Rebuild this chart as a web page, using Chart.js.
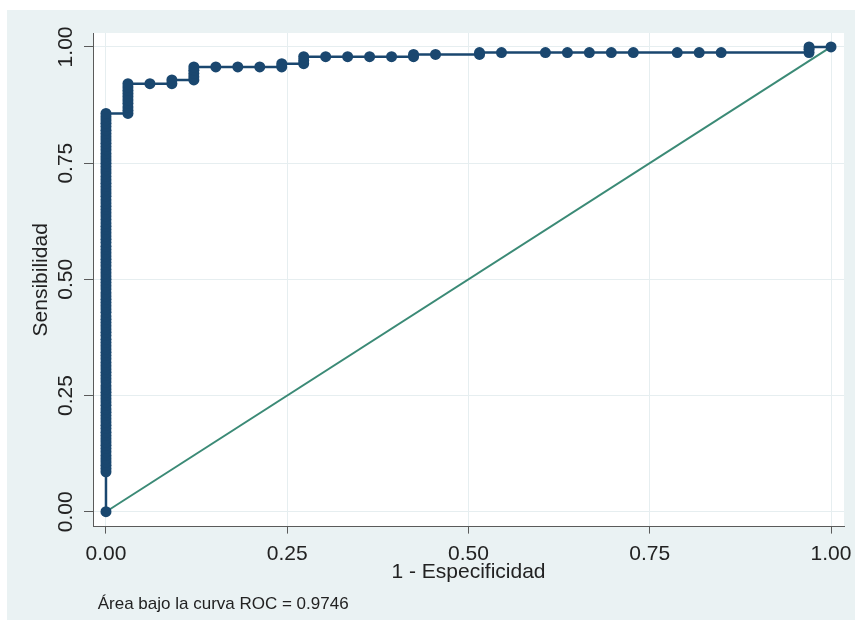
<!DOCTYPE html>
<html>
<head>
<meta charset="utf-8">
<script src="https://cdn.jsdelivr.net/npm/chart.js@4.4.0/dist/chart.umd.min.js"></script>
<style>
  body { margin: 0; background: #ffffff; }
  #panel { position: absolute; left: 7px; top: 10px; width: 848px; height: 610px; background: #eaf2f3; }
</style>
</head>
<body>
<div id="panel"><canvas id="rocChart" width="848" height="610"></canvas></div>
<script>
// 1 - especificidad de cada columna de puntos de corte
var columnasX = [0, 0.0303, 0.0606, 0.0909, 0.1212, 0.1515, 0.1818, 0.2121, 0.2424, 0.2727,
    0.3030, 0.3333, 0.3636, 0.3939, 0.4242, 0.4545, 0.5152, 0.5455, 0.6061, 0.6364,
    0.6667, 0.6970, 0.7273, 0.7879, 0.8182, 0.8485, 0.9697, 1.0];
// sensibilidad de los puntos de cada columna
var sensPorColumna = [
    [0, 0.086, 0.093, 0.1, 0.107, 0.114, 0.121, 0.129, 0.136, 0.143, 0.15, 0.157, 0.164, 0.171,
     0.179, 0.186, 0.193, 0.2, 0.207, 0.214, 0.221, 0.229, 0.236, 0.243, 0.25, 0.257, 0.264,
     0.271, 0.279, 0.286, 0.293, 0.3, 0.307, 0.314, 0.321, 0.329, 0.336, 0.343, 0.35, 0.357,
     0.364, 0.371, 0.379, 0.386, 0.393, 0.4, 0.407, 0.414, 0.421, 0.429, 0.436, 0.443, 0.45,
     0.457, 0.464, 0.471, 0.479, 0.486, 0.493, 0.5, 0.507, 0.514, 0.521, 0.529, 0.536, 0.543,
     0.55, 0.557, 0.564, 0.571, 0.579, 0.586, 0.593, 0.6, 0.607, 0.614, 0.621, 0.629, 0.636,
     0.643, 0.65, 0.657, 0.664, 0.671, 0.679, 0.686, 0.693, 0.7, 0.707, 0.714, 0.721, 0.729,
     0.736, 0.743, 0.75, 0.757, 0.764, 0.771, 0.779, 0.786, 0.793, 0.8, 0.807, 0.814, 0.821,
     0.829, 0.836, 0.843, 0.85, 0.857],
    [0.857, 0.864, 0.871, 0.879, 0.886, 0.893, 0.9, 0.907, 0.914, 0.921],
    [0.921],
    [0.921, 0.929],
    [0.929, 0.936, 0.943, 0.95, 0.957],
    [0.957],
    [0.957],
    [0.957],
    [0.957, 0.964],
    [0.964, 0.971, 0.979],
    [0.979],
    [0.979],
    [0.979],
    [0.979],
    [0.979, 0.984],
    [0.984],
    [0.984, 0.988],
    [0.988],
    [0.988],
    [0.988],
    [0.988],
    [0.988],
    [0.988],
    [0.988],
    [0.988],
    [0.988],
    [0.988, 0.995, 1.0],
    [1.0]
];
var diagonalX = [0, 1];
var diagonalY = [0, 1];
var ticksEje = [0, 0.25, 0.5, 0.75, 1];
var areaROC = "0.9746";

var puntosROC = [];
for (var i = 0; i < columnasX.length; i++) {
    sensPorColumna[i].forEach(function(s) {
        puntosROC.push({x: columnasX[i], y: s});
    });
}
var puntosDiag = diagonalX.map(function(x, j) { return {x: x, y: diagonalY[j]}; });

var azul = '#1a476f';
var gris = '#5a5a5a';
var fuente = 'Arial, "Liberation Sans", sans-serif';

var fondoBlanco = {
    id: 'fondoBlanco',
    beforeDraw: function(chart) {
        var a = chart.chartArea;
        var ctx = chart.ctx;
        ctx.save();
        ctx.fillStyle = '#ffffff';
        ctx.fillRect(a.left, a.top, a.right - a.left, a.bottom - a.top);
        ctx.restore();
    }
};

function ponerTicks(scale) {
    scale.ticks = ticksEje.map(function(v) { return {value: v}; });
}
// sin relleno extra por las etiquetas de los extremos
function sinRelleno(s) {
    s.paddingLeft = 0; s.paddingRight = 0; s.paddingTop = 0; s.paddingBottom = 0;
}

var ctx = document.getElementById('rocChart');
var myChart = new Chart(ctx, {
    type: 'scatter',
    data: {
        datasets: [
            {
                label: 'ROC',
                data: puntosROC,
                showLine: true,
                borderColor: azul,
                borderWidth: 2.5,
                backgroundColor: azul,
                pointBackgroundColor: azul,
                pointBorderColor: azul,
                pointBorderWidth: 0,
                pointRadius: 5.5,
                lineTension: 0
            },
            {
                label: 'Referencia',
                data: puntosDiag,
                showLine: true,
                borderColor: '#3b8a76',
                borderWidth: 2,
                pointRadius: 0,
                lineTension: 0
            }
        ]
    },
    options: {
        responsive: false,
        animation: false,
        layout: { padding: { top: 23, right: 11, left: 0, bottom: 0 } },
        plugins: {
            legend: { display: false },
            tooltip: { enabled: false },
            subtitle: {
                display: true,
                position: 'bottom',
                align: 'start',
                fullSize: false,
                text: ' \u00c1rea bajo la curva ROC = ' + areaROC,
                color: '#222',
                font: { family: fuente, size: 17 },
                padding: { top: 4, bottom: 5 }
            }
        },
        scales: {
            x: {
                type: 'linear',
                min: -0.0179,
                max: 1.0179,
                afterBuildTicks: ponerTicks,
                afterFit: function(s) { s.height = 64; sinRelleno(s); },
                grid: { color: '#e6eef0', lineWidth: 1, tickLength: 7, tickColor: gris },
                border: { display: true, color: gris, width: 1 },
                ticks: {
                    color: '#222',
                    font: { family: fuente, size: 21 },
                    padding: 8,
                    maxRotation: 0,
                    callback: function(v) { return v.toFixed(2); }
                },
                title: {
                    display: true,
                    text: '1 - Especificidad',
                    color: '#222',
                    font: { family: fuente, size: 21 },
                    padding: { top: 0, bottom: 6 }
                }
            },
            y: {
                type: 'linear',
                min: -0.032,
                max: 1.030,
                afterBuildTicks: ponerTicks,
                afterFit: function(s) { s.width = 86; sinRelleno(s); },
                grid: { color: '#e6eef0', lineWidth: 1, tickLength: 9, tickColor: gris },
                border: { display: true, color: gris, width: 1 },
                ticks: {
                    color: '#222',
                    font: { family: fuente, size: 21 },
                    padding: -3,
                    minRotation: 90,
                    maxRotation: 90,
                    crossAlign: 'center',
                    callback: function(v) { return v.toFixed(2); }
                },
                title: {
                    display: true,
                    text: 'Sensibilidad',
                    color: '#222',
                    font: { family: fuente, size: 21 },
                    padding: { top: 22, bottom: 0 }
                }
            }
        }
    },
    plugins: [fondoBlanco]
});
</script>
</body>
</html>
